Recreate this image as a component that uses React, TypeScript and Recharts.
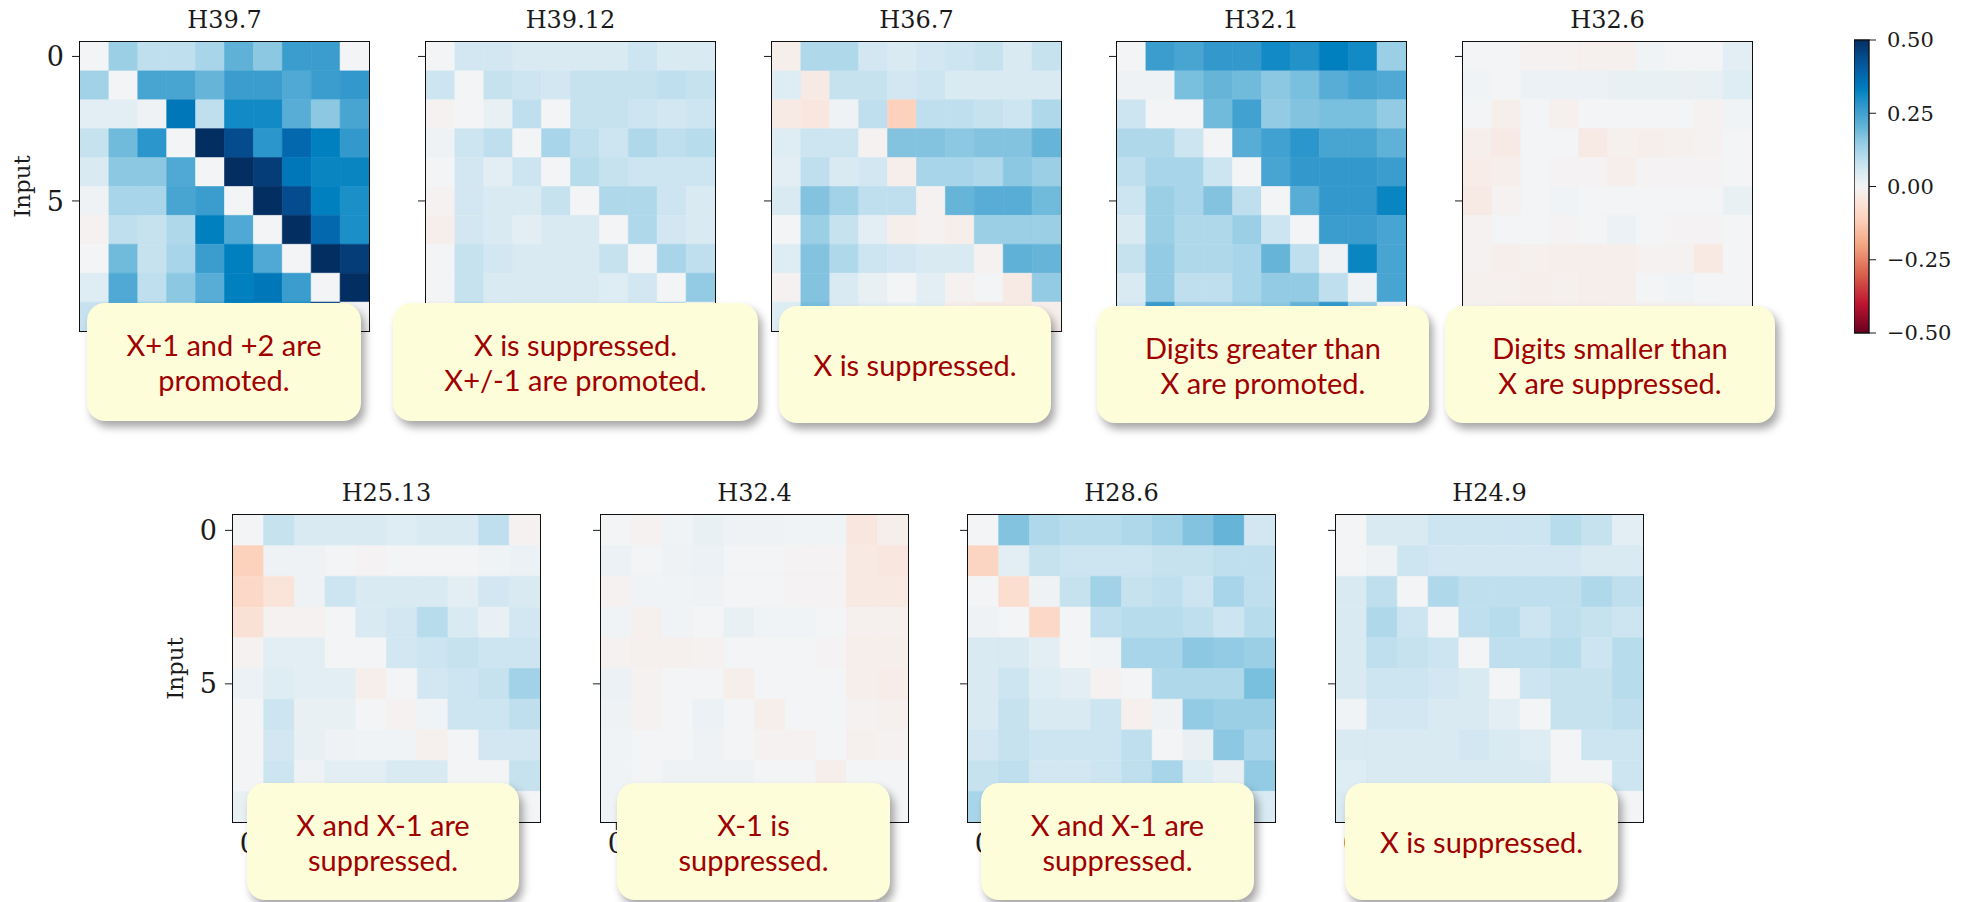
import { Bar, BarChart, Cell, XAxis, YAxis } from 'recharts'

// rows = input digit, columns = output digit
const INPUTS = [0, 1, 2, 3, 4, 5, 6, 7, 8, 9]
const OUTPUTS = [0, 1, 2, 3, 4, 5, 6, 7, 8, 9]

const H39_7 = [
	[0.0, 0.14, 0.09, 0.09, 0.12, 0.21, 0.16, 0.26, 0.26, 0.0],
	[0.13, 0.0, 0.24, 0.24, 0.2, 0.26, 0.26, 0.23, 0.26, 0.27],
	[0.03, 0.03, 0.01, 0.35, 0.09, 0.31, 0.31, 0.22, 0.16, 0.24],
	[0.08, 0.19, 0.28, 0.0, 0.5, 0.44, 0.28, 0.38, 0.33, 0.27],
	[0.05, 0.16, 0.16, 0.23, 0.0, 0.5, 0.47, 0.35, 0.32, 0.32],
	[0.01, 0.12, 0.12, 0.24, 0.26, 0.0, 0.5, 0.44, 0.33, 0.3],
	[-0.01, 0.09, 0.08, 0.11, 0.33, 0.23, 0.0, 0.5, 0.38, 0.3],
	[0.0, 0.19, 0.08, 0.12, 0.26, 0.33, 0.23, 0.0, 0.5, 0.47],
	[0.04, 0.23, 0.09, 0.16, 0.22, 0.33, 0.35, 0.26, 0.0, 0.5],
	[0.08, 0.22, 0.12, 0.14, 0.24, 0.33, 0.32, 0.3, 0.45, 0.0],
]

const H39_12 = [
	[0.0, 0.06, 0.06, 0.05, 0.05, 0.05, 0.05, 0.07, 0.05, 0.05],
	[0.07, 0.0, 0.08, 0.07, 0.06, 0.08, 0.08, 0.08, 0.09, 0.08],
	[-0.01, 0.0, 0.02, 0.09, 0.0, 0.08, 0.08, 0.07, 0.06, 0.07],
	[0.01, 0.07, 0.09, 0.0, 0.12, 0.09, 0.07, 0.11, 0.09, 0.1],
	[0.0, 0.06, 0.03, 0.07, 0.0, 0.1, 0.08, 0.07, 0.07, 0.07],
	[-0.01, 0.06, 0.05, 0.05, 0.08, 0.0, 0.11, 0.11, 0.07, 0.05],
	[-0.02, 0.06, 0.05, 0.03, 0.05, 0.05, 0.0, 0.11, 0.06, 0.05],
	[0.0, 0.08, 0.06, 0.05, 0.05, 0.05, 0.08, 0.0, 0.12, 0.09],
	[0.0, 0.08, 0.05, 0.05, 0.05, 0.05, 0.04, 0.06, 0.0, 0.15],
	[0.0, 0.1, 0.06, 0.05, 0.05, 0.05, 0.05, 0.06, 0.1, 0.0],
]

const H36_7 = [
	[-0.02, 0.11, 0.11, 0.06, 0.05, 0.06, 0.07, 0.08, 0.05, 0.08],
	[0.04, -0.03, 0.08, 0.08, 0.06, 0.07, 0.05, 0.05, 0.05, 0.05],
	[-0.03, -0.04, 0.01, 0.09, -0.11, 0.09, 0.09, 0.08, 0.07, 0.11],
	[0.04, 0.07, 0.07, -0.01, 0.17, 0.17, 0.16, 0.17, 0.17, 0.2],
	[0.03, 0.09, 0.05, 0.06, -0.02, 0.12, 0.12, 0.11, 0.16, 0.14],
	[0.05, 0.17, 0.13, 0.09, 0.09, -0.01, 0.2, 0.22, 0.22, 0.19],
	[0.0, 0.14, 0.08, 0.03, -0.02, -0.01, -0.02, 0.14, 0.14, 0.14],
	[0.04, 0.17, 0.11, 0.07, 0.06, 0.05, 0.05, -0.01, 0.21, 0.2],
	[-0.01, 0.17, 0.05, 0.02, 0.0, 0.03, -0.01, 0.0, -0.03, 0.15],
	[0.04, 0.18, 0.05, 0.03, 0.02, 0.03, -0.02, -0.03, -0.03, -0.02],
]

const H32_1 = [
	[0.0, 0.26, 0.24, 0.27, 0.27, 0.31, 0.29, 0.33, 0.31, 0.14],
	[0.01, 0.01, 0.18, 0.2, 0.19, 0.16, 0.18, 0.22, 0.24, 0.23],
	[0.07, 0.0, 0.0, 0.19, 0.25, 0.15, 0.17, 0.18, 0.18, 0.15],
	[0.11, 0.11, 0.07, 0.0, 0.22, 0.25, 0.28, 0.24, 0.24, 0.21],
	[0.09, 0.12, 0.12, 0.07, 0.0, 0.24, 0.27, 0.27, 0.27, 0.26],
	[0.07, 0.14, 0.12, 0.17, 0.09, 0.0, 0.22, 0.27, 0.27, 0.32],
	[0.05, 0.14, 0.11, 0.11, 0.14, 0.07, 0.0, 0.26, 0.26, 0.24],
	[0.08, 0.15, 0.11, 0.11, 0.12, 0.2, 0.09, 0.01, 0.32, 0.24],
	[0.05, 0.15, 0.09, 0.09, 0.12, 0.15, 0.15, 0.09, 0.01, 0.24],
	[0.06, 0.26, 0.13, 0.13, 0.14, 0.16, 0.2, 0.27, 0.14, 0.0],
]

const H32_6 = [
	[0.0, 0.0, -0.01, -0.01, -0.015, -0.015, 0.005, 0.0, 0.0, 0.03],
	[0.005, 0.0, 0.015, 0.015, 0.015, 0.02, 0.02, 0.02, 0.02, 0.04],
	[0.0, -0.02, 0.0, -0.015, 0.0, 0.0, 0.0, 0.0, -0.01, 0.005],
	[-0.02, -0.03, 0.0, 0.0, -0.03, -0.015, -0.02, -0.015, -0.01, 0.0],
	[-0.025, -0.02, 0.0, -0.005, -0.005, -0.02, -0.005, -0.005, -0.005, 0.0],
	[-0.03, -0.01, 0.0, 0.005, 0.0, 0.0, 0.0, 0.0, 0.0, 0.02],
	[-0.01, 0.0, 0.0, -0.005, 0.0, 0.015, 0.0, -0.005, -0.005, 0.0],
	[-0.01, -0.02, -0.015, -0.02, -0.02, -0.02, -0.01, -0.01, -0.035, 0.0],
	[-0.015, -0.015, -0.02, -0.015, -0.02, -0.02, 0.0, 0.005, 0.0, 0.0],
	[-0.01, -0.015, -0.02, -0.015, -0.02, -0.015, -0.01, -0.01, -0.005, 0.0],
]

const H25_13 = [
	[0.0, 0.08, 0.05, 0.05, 0.05, 0.04, 0.05, 0.05, 0.09, -0.01],
	[-0.11, 0.01, 0.01, 0.0, -0.005, 0.0, 0.0, 0.0, 0.005, 0.015],
	[-0.09, -0.05, 0.01, 0.07, 0.05, 0.05, 0.05, 0.03, 0.06, 0.05],
	[-0.06, -0.01, -0.01, 0.0, 0.05, 0.06, 0.1, 0.05, 0.02, 0.06],
	[-0.01, 0.03, 0.03, 0.0, 0.0, 0.06, 0.07, 0.08, 0.07, 0.07],
	[0.015, 0.04, 0.03, 0.03, -0.02, 0.0, 0.06, 0.07, 0.08, 0.13],
	[0.0, 0.07, 0.02, 0.02, 0.0, -0.01, 0.005, 0.07, 0.07, 0.09],
	[0.0, 0.06, 0.02, 0.01, 0.005, 0.005, -0.015, 0.0, 0.06, 0.06],
	[0.0, 0.07, 0.01, 0.03, 0.03, 0.05, 0.05, 0.0, 0.0, 0.08],
	[0.02, 0.04, 0.03, 0.02, 0.02, 0.03, 0.03, 0.02, -0.01, 0.0],
]

const H32_4 = [
	[0.0, -0.01, 0.005, 0.02, 0.01, 0.01, 0.005, 0.005, -0.04, -0.02],
	[0.015, 0.0, 0.01, 0.015, 0.0, 0.0, -0.005, -0.005, -0.035, -0.04],
	[-0.01, 0.005, 0.005, 0.01, 0.0, 0.0, -0.005, -0.005, -0.035, -0.035],
	[0.005, -0.015, 0.005, 0.0, 0.02, 0.005, 0.005, 0.0, -0.015, -0.015],
	[-0.01, -0.015, -0.015, -0.01, 0.0, 0.0, 0.0, -0.005, -0.02, -0.02],
	[0.015, -0.01, 0.0, 0.0, -0.02, 0.0, 0.0, 0.0, -0.02, -0.025],
	[0.01, -0.01, 0.0, 0.015, 0.0, -0.02, 0.0, 0.0, -0.01, -0.015],
	[0.005, 0.0, 0.0, 0.01, 0.0, -0.01, -0.01, 0.0, -0.015, -0.01],
	[0.005, 0.0, 0.01, 0.01, 0.01, 0.0, 0.0, -0.02, 0.0, 0.0],
	[0.005, 0.0, 0.005, 0.0, 0.0, -0.005, 0.0, -0.01, -0.005, 0.0],
]

const H28_6 = [
	[0.0, 0.17, 0.11, 0.1, 0.1, 0.11, 0.13, 0.17, 0.2, 0.06],
	[-0.1, 0.03, 0.08, 0.07, 0.07, 0.07, 0.08, 0.08, 0.09, 0.09],
	[0.0, -0.07, 0.01, 0.08, 0.13, 0.08, 0.09, 0.07, 0.12, 0.09],
	[0.01, 0.0, -0.09, 0.0, 0.09, 0.1, 0.1, 0.09, 0.07, 0.1],
	[0.05, 0.05, 0.03, 0.0, 0.005, 0.12, 0.12, 0.16, 0.15, 0.14],
	[0.05, 0.07, 0.04, 0.03, -0.01, 0.0, 0.11, 0.11, 0.11, 0.18],
	[0.05, 0.08, 0.05, 0.05, 0.07, -0.015, 0.01, 0.15, 0.14, 0.14],
	[0.06, 0.08, 0.07, 0.07, 0.07, 0.09, 0.0, 0.02, 0.16, 0.12],
	[0.08, 0.09, 0.06, 0.06, 0.07, 0.09, 0.12, 0.04, 0.02, 0.15],
	[0.12, 0.1, 0.08, 0.07, 0.08, 0.1, 0.11, 0.12, 0.06, 0.05],
]

const H24_9 = [
	[0.0, 0.05, 0.05, 0.07, 0.07, 0.07, 0.07, 0.1, 0.08, 0.03],
	[0.0, 0.01, 0.07, 0.06, 0.06, 0.06, 0.06, 0.06, 0.05, 0.05],
	[0.05, 0.09, 0.0, 0.11, 0.09, 0.09, 0.09, 0.09, 0.11, 0.09],
	[0.05, 0.11, 0.07, 0.0, 0.09, 0.1, 0.07, 0.09, 0.08, 0.07],
	[0.05, 0.09, 0.08, 0.07, 0.0, 0.09, 0.09, 0.1, 0.07, 0.1],
	[0.05, 0.07, 0.07, 0.06, 0.05, 0.0, 0.07, 0.08, 0.08, 0.1],
	[0.005, 0.06, 0.06, 0.05, 0.05, 0.03, 0.0, 0.08, 0.08, 0.09],
	[0.05, 0.05, 0.05, 0.05, 0.06, 0.05, 0.04, 0.0, 0.07, 0.07],
	[0.04, 0.05, 0.05, 0.05, 0.05, 0.05, 0.05, 0.0, 0.0, 0.07],
	[0.05, 0.06, 0.06, 0.05, 0.05, 0.05, 0.06, 0.05, 0.04, 0.0],
]

const TOP_HEADS = ['H39.7', 'H39.12', 'H36.7', 'H32.1', 'H32.6']
const TOP_VALUES = [H39_7, H39_12, H36_7, H32_1, H32_6]
const TOP_NOTES = [
	'X+1 and +2 are\npromoted.',
	'X is suppressed.\nX+/-1 are promoted.',
	'X is suppressed.',
	'Digits greater than\nX are promoted.',
	'Digits smaller than\nX are suppressed.',
]

const BOTTOM_HEADS = ['H25.13', 'H32.4', 'H28.6', 'H24.9']
const BOTTOM_VALUES = [H25_13, H32_4, H28_6, H24_9]
const BOTTOM_NOTES = [
	'X and X-1 are\nsuppressed.',
	'X-1 is\nsuppressed.',
	'X and X-1 are\nsuppressed.',
	'X is suppressed.',
]

const CBAR_TICKS = [-0.5, -0.25, 0, 0.25, 0.5]

// diverging red/blue map over [-0.5, 0.5]
const RDBU: [number, string][] = [
	[-0.5, '#67001f'],
	[-0.4, '#bd1530'],
	[-0.3, '#d9604c'],
	[-0.2, '#f4a582'],
	[-0.11, '#fcd2bd'],
	[-0.05, '#fae4da'],
	[0.0, '#f3f4f5'],
	[0.05, '#d9eaf3'],
	[0.09, '#bfdfee'],
	[0.12, '#a8d5e9'],
	[0.16, '#8cc8e2'],
	[0.2, '#66b5d9'],
	[0.24, '#48a5d2'],
	[0.27, '#3399cc'],
	[0.3, '#1a8fc8'],
	[0.33, '#0080bf'],
	[0.36, '#0072b5'],
	[0.4, '#065ea4'],
	[0.44, '#044c8e'],
	[0.5, '#032e62'],
]

const hexToRgb = (h: string) => [1, 3, 5].map((i) => parseInt(h.slice(i, i + 2), 16))

const rdbu = (v: number) => {
	const x = Math.max(-0.5, Math.min(0.5, v))
	let k = 0
	while (k < RDBU.length - 2 && x > RDBU[k + 1][0]) k++
	const [v0, c0] = RDBU[k]
	const [v1, c1] = RDBU[k + 1]
	const t = (x - v0) / (v1 - v0)
	const a = hexToRgb(c0)
	const b = hexToRgb(c1)
	const rgb = a.map((ch, i) => Math.round(ch + (b[i] - ch) * t))
	return `rgb(${rgb.join(',')})`
}

const SERIF = '"DejaVu Serif", serif'
const INK = '#1a1a1a'
const AXIS_W = 80
const PAD = 10

interface IHeatmap {
	name: string
	values: number[][]
	x: number
	y: number
	size: number
	labelled: boolean
}

const Heatmap = (props: IHeatmap) => {
	const { name, values, x, y, size, labelled } = props

	const data = OUTPUTS.map((o) => {
		const row: any = { out: o }
		INPUTS.forEach((i) => {
			row[`in${i}`] = 1
		})
		return row
	})

	const tickFont = { fontSize: 27, fontFamily: SERIF, fill: INK }

	return (
		<div style={{ position: 'absolute', left: x - AXIS_W, top: y - PAD }}>
			<div
				style={{
					position: 'absolute',
					left: AXIS_W,
					top: PAD - 35,
					width: size,
					textAlign: 'center',
					fontFamily: SERIF,
					fontSize: 24,
					lineHeight: '26px',
					color: INK,
				}}
			>
				{name}
			</div>
			<BarChart
				width={AXIS_W + size + 10}
				height={PAD + size + 45}
				data={data}
				margin={{ top: PAD, right: 10, bottom: 5, left: 0 }}
				barCategoryGap={0}
			>
				<XAxis
					dataKey="out"
					ticks={[0, 5]}
					interval={0}
					height={40}
					tickSize={8}
					tickMargin={4}
					axisLine={false}
					tickLine={{ stroke: INK }}
					tick={tickFont}
				/>
				<YAxis
					type="number"
					domain={[0, 10]}
					reversed
					ticks={[0.5, 5.5]}
					interval={0}
					width={AXIS_W}
					tickSize={8}
					tickMargin={8}
					axisLine={false}
					tickLine={{ stroke: INK }}
					tick={tickFont}
					tickFormatter={(v) => (labelled ? String(v - 0.5) : '')}
					label={
						labelled
							? {
									value: 'Input',
									angle: -90,
									position: 'insideLeft',
									offset: 22,
									style: { textAnchor: 'middle', fontSize: 23, fontFamily: SERIF, fill: INK },
								}
							: undefined
					}
				/>
				{INPUTS.map((i) => (
					<Bar key={i} dataKey={`in${i}`} stackId="m" isAnimationActive={false}>
						{OUTPUTS.map((o) => {
							const c = rdbu(values[i][o])
							return <Cell key={o} fill={c} stroke={c} strokeWidth={0.6} />
						})}
					</Bar>
				))}
			</BarChart>
			{/* axes frame drawn over the cells */}
			<div
				style={{
					position: 'absolute',
					left: AXIS_W - 1,
					top: PAD - 1,
					width: size + 2,
					height: size + 2,
					border: '1.5px solid #111',
					boxSizing: 'border-box',
					pointerEvents: 'none',
				}}
			/>
		</div>
	)
}

const CB_PAD = 24

const Colorbar = () => (
	<div style={{ position: 'absolute', left: 1854, top: 40 - CB_PAD }}>
		<BarChart
			width={15 + 100}
			height={CB_PAD + 293 + CB_PAD}
			data={[{ k: 'scale', span: [-0.5, 0.5] }]}
			margin={{ top: CB_PAD, right: 0, bottom: CB_PAD, left: 0 }}
			barCategoryGap={0}
		>
			<defs>
				<linearGradient id="rdbu" x1="0" y1="0" x2="0" y2="1">
					{RDBU.slice()
						.reverse()
						.map(([v, c]) => (
							<stop key={v} offset={`${(0.5 - v) * 100}%`} stopColor={c} />
						))}
				</linearGradient>
			</defs>
			<XAxis dataKey="k" hide />
			<YAxis
				type="number"
				orientation="right"
				domain={[-0.5, 0.5]}
				ticks={CBAR_TICKS}
				interval={0}
				width={100}
				tickSize={7}
				tickMargin={11}
				axisLine={false}
				tickLine={{ stroke: INK }}
				tick={{ fontSize: 21, fontFamily: SERIF, fill: INK }}
				tickFormatter={(v) => (v < 0 ? `\u2212${Math.abs(v).toFixed(2)}` : v.toFixed(2))}
			/>
			<Bar dataKey="span" fill="url(#rdbu)" stroke="#111" strokeWidth={1.4} isAnimationActive={false} />
		</BarChart>
	</div>
)

interface INote {
	text: string
	x: number
	y: number
	w: number
	h: number
}

const Note = ({ text, x, y, w, h }: INote) => (
	<div
		style={{
			position: 'absolute',
			left: x,
			top: y,
			width: w,
			height: h,
			background: '#fdfdda',
			borderRadius: 18,
			boxShadow: '4px 6px 8px rgba(0,0,0,0.35)',
			display: 'flex',
			alignItems: 'center',
			justifyContent: 'center',
			textAlign: 'center',
			whiteSpace: 'pre-line',
			fontFamily: 'Lato, sans-serif',
			fontSize: 29,
			lineHeight: '35px',
			color: '#a00000',
		}}
	>
		{text}
	</div>
)

const TOP_X = [80, 426, 772, 1117, 1463]
const BOTTOM_X = [233, 601, 968, 1336]
const TOP_BOXES = [
	[87, 303, 274, 118],
	[393, 303, 365, 118],
	[779, 306, 272, 117],
	[1097, 306, 332, 117],
	[1445, 306, 330, 117],
]
const BOTTOM_BOXES = [
	[247, 783, 272, 117],
	[617, 783, 273, 117],
	[981, 783, 273, 117],
	[1345, 783, 273, 117],
]

const App = () => {
	return (
		<div style={{ position: 'absolute', left: 0, top: 0, width: 1974, height: 902, background: '#fff', overflow: 'hidden' }}>
			{TOP_HEADS.map((name, k) => (
				<Heatmap key={name} name={name} values={TOP_VALUES[k]} x={TOP_X[k]} y={42} size={289} labelled={k === 0} />
			))}
			{BOTTOM_HEADS.map((name, k) => (
				<Heatmap key={name} name={name} values={BOTTOM_VALUES[k]} x={BOTTOM_X[k]} y={515} size={307} labelled={k === 0} />
			))}
			<Colorbar />
			{TOP_NOTES.map((text, k) => (
				<Note key={k} text={text} x={TOP_BOXES[k][0]} y={TOP_BOXES[k][1]} w={TOP_BOXES[k][2]} h={TOP_BOXES[k][3]} />
			))}
			{BOTTOM_NOTES.map((text, k) => (
				<Note key={k} text={text} x={BOTTOM_BOXES[k][0]} y={BOTTOM_BOXES[k][1]} w={BOTTOM_BOXES[k][2]} h={BOTTOM_BOXES[k][3]} />
			))}
		</div>
	)
}

export default App
